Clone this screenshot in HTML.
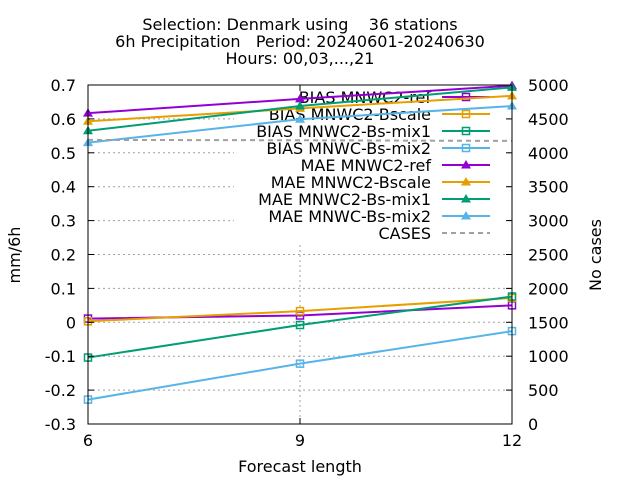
<!DOCTYPE html>
<html><head><meta charset="utf-8"><style>
body{margin:0;background:#fff}
svg text{font-family:"DejaVu Sans","Liberation Sans",sans-serif;font-size:16px;fill:#000}
</style></head><body>
<svg id="c" width="640" height="480" xmlns="http://www.w3.org/2000/svg">
<g>
<text x="300" y="30" text-anchor="middle" xml:space="preserve">Selection: Denmark using    36 stations</text>
<text x="300" y="47" text-anchor="middle" xml:space="preserve">6h Precipitation   Period: 20240601-20240630</text>
<text x="300" y="64" text-anchor="middle">Hours: 00,03,...,21</text>
</g>
<g id="grid"></g>
<rect x="234" y="86" width="272" height="158" fill="#fff"/>
<g id="legend"></g>
<g id="series"></g>
<rect x="88" y="85" width="424" height="339" fill="none" stroke="#000" stroke-width="1"/>
<g id="axes"></g>
<text x="300" y="472" text-anchor="middle">Forecast length</text>
<text transform="translate(20,255) rotate(-90)" text-anchor="middle">mm/6h</text>
<text transform="translate(601,255) rotate(-90)" text-anchor="middle">No cases</text>
</svg>
<script>
const xs = [6, 9, 12];
const yTicks = [0.7,0.6,0.5,0.4,0.3,0.2,0.1,0,-0.1,-0.2,-0.3];
const yTickLabels = ["0.7","0.6","0.5","0.4","0.3","0.2","0.1","0","-0.1","-0.2","-0.3"];
const y2Ticks = [5000,4500,4000,3500,3000,2500,2000,1500,1000,500,0];
const biasRef = [0.011, 0.02, 0.05];
const biasBscale = [0.003, 0.033, 0.072];
const biasMix1 = [-0.104, -0.008, 0.076];
const biasMix2 = [-0.228, -0.122, -0.026];
const maeRef = [0.617, 0.659, 0.698];
const maeBscale = [0.593, 0.631, 0.668];
const maeMix1 = [0.565, 0.638, 0.693];
const maeMix2 = [0.530, 0.599, 0.638];
const cases = [4190, 4185, 4175];

const NS="http://www.w3.org/2000/svg";
const X=v=>88+(v-6)/6*424;
const Y=v=>85+(0.7-v)/1.0*339;
const Y2=v=>85+(5000-v)/5000*339;
function mk(p,t,a){const e=document.createElementNS(NS,t);for(const k in a)e.setAttribute(k,a[k]);p.appendChild(e);return e;}
const grid=document.getElementById('grid'),axes=document.getElementById('axes'),ser=document.getElementById('series'),leg=document.getElementById('legend');
yTicks.forEach((t,i)=>{
  const y=Y(t);
  if(i>0&&i<yTicks.length-1){const g=mk(grid,'line',{x1:88,x2:512,y1:y,y2:y,stroke:'#a0a0a0','stroke-dasharray':'2,3'});
  
  }
  mk(axes,'line',{x1:88,x2:94,y1:y,y2:y,stroke:'#000'});
  const tx=mk(axes,'text',{x:76,y:y+6,'text-anchor':'end'});tx.textContent=yTickLabels[i];
  
  
});
y2Ticks.forEach(t=>{
  const y=Y2(t);
  mk(axes,'line',{x1:506,x2:512,y1:y,y2:y,stroke:'#000'});
  const tx=mk(axes,'text',{x:528,y:y+6});tx.textContent=t;
  
  
});
xs.forEach((t,i)=>{
  const x=X(t);
  if(i==1){const g=mk(grid,'line',{x1:x,x2:x,y1:85,y2:424,stroke:'#a0a0a0','stroke-dasharray':'2,3'});
  
  }
  mk(axes,'line',{x1:x,x2:x,y1:424,y2:418,stroke:'#000'});
  mk(axes,'line',{x1:x,x2:x,y1:85,y2:91,stroke:'#000'});
  const tx=mk(axes,'text',{x:x,y:446,'text-anchor':'middle'});tx.textContent=t;
  
  
});
const C={p:'#9400d3',o:'#e69f00',g:'#009e73',b:'#56b4e9'};
const S=[
 ['BIAS MNWC2-ref',biasRef,C.p,'sq'],
 ['BIAS MNWC2-Bscale',biasBscale,C.o,'sq'],
 ['BIAS MNWC2-Bs-mix1',biasMix1,C.g,'sq'],
 ['BIAS MNWC-Bs-mix2',biasMix2,C.b,'sq'],
 ['MAE MNWC2-ref',maeRef,C.p,'tri'],
 ['MAE MNWC2-Bscale',maeBscale,C.o,'tri'],
 ['MAE MNWC2-Bs-mix1',maeMix1,C.g,'tri'],
 ['MAE MNWC-Bs-mix2',maeMix2,C.b,'tri']];
function marker(p,x,y,c,k){
  if(k=='sq') return mk(p,'rect',{x:x-3.5,y:y-3.5,width:7,height:7,fill:'none',stroke:c,'stroke-width':1.5});
  return mk(p,'path',{d:`M${x},${y-5}L${x+5},${y+3.5}L${x-5},${y+3.5}Z`,fill:c});
}
S.forEach((s,i)=>{
  const ly=97+i*17;
  const t=mk(leg,'text',{x:431,y:ly+6,'text-anchor':'end'});t.textContent=s[0];
  
  
  mk(leg,'line',{x1:442,x2:490,y1:ly,y2:ly,stroke:s[2],'stroke-width':2});
  marker(leg,466,ly,s[2],s[3]);
  const g=mk(ser,'g',{});
  
  
  mk(g,'polyline',{points:xs.map((x,j)=>X(x)+','+Y(s[1][j])).join(' '),fill:'none',stroke:s[2],'stroke-width':2});
  xs.forEach((x,j)=>{const m=marker(g,X(x),Y(s[1][j]),s[2],s[3]);
  
  });
});
const cy=97+8*17;
const ct=mk(leg,'text',{x:431,y:cy+6,'text-anchor':'end'});ct.textContent='CASES';


mk(leg,'line',{x1:442,x2:490,y1:cy,y2:cy,stroke:'#a0a0a0','stroke-width':2,'stroke-dasharray':'5,4'});
const cl=mk(ser,'polyline',{points:xs.map((x,j)=>X(x)+','+Y2(cases[j])).join(' '),fill:'none',stroke:'#a0a0a0','stroke-width':2,'stroke-dasharray':'5,4'});


</script>
</body></html>
